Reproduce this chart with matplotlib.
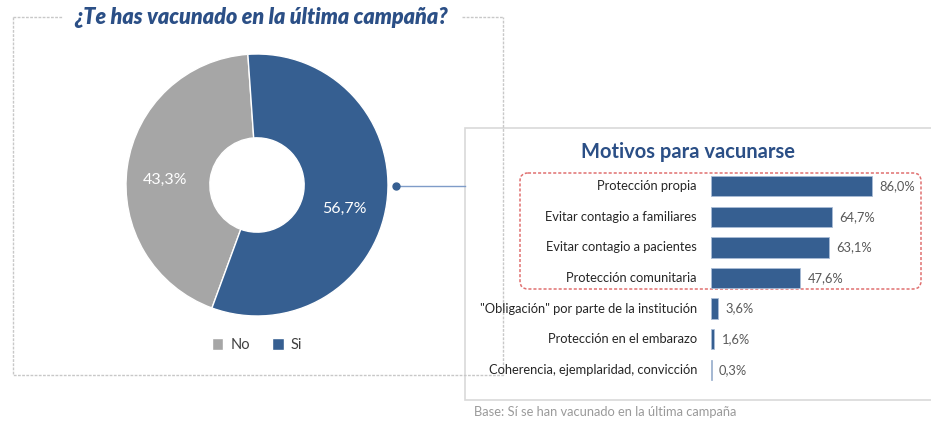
import matplotlib.pyplot as plt
from matplotlib.patches import Rectangle, FancyBboxPatch

# data
vac_labels = ['No', 'Si']
vac_values = [43.3, 56.7]
vac_text = ['43,3%', '56,7%']

motivos = ['Protección propia', 'Evitar contagio a familiares', 'Evitar contagio a pacientes',
           'Protección comunitaria', '"Obligación" por parte de la institución',
           'Protección en el embarazo', 'Coherencia, ejemplaridad, convicción']
motivos_pct = [86.0, 64.7, 63.1, 47.6, 3.6, 1.6, 0.3]
motivos_text = ['86,0%', '64,7%', '63,1%', '47,6%', '3,6%', '1,6%', '0,3%']

BLUE = '#365F91'
GRAY = '#A6A6A6'
TITLE = '#2B4F86'
W, H = 931, 423

plt.rcParams['font.family'] = ['Lato', 'DejaVu Sans']

fig = plt.figure(figsize=(W / 100, H / 100), dpi=100)


def px(x0, y0, w, h):
    # pixel box (top-left origin) -> figure fraction rect
    return [x0 / W, 1 - (y0 + h) / H, w / W, h / H]


# background layer for frames
bg = fig.add_axes([0, 0, 1, 1], zorder=0)
bg.set_xlim(0, W)
bg.set_ylim(H, 0)
bg.axis('off')

# left dashed frame, broken by the title
ls = dict(color='#C8C8C8', lw=1, ls=(0, (2, 1)))
bg.plot([13, 13, 503, 503], [17, 375, 375, 17], **ls)
bg.plot([13, 63], [17, 17], **ls)
bg.plot([462, 503], [17, 17], **ls)
bg.text(261, 18, '¿Te has vacunado en la última campaña?', ha='center', va='center',
        fontsize=15.5, fontweight='heavy', fontstyle='italic', color=TITLE)

# connector
bg.plot([396, 465], [186.5, 186.5], color='#7F9CC8', lw=1)
bg.plot([396], [186.5], 'o', ms=5, color=BLUE)

# right frame
bg.add_patch(Rectangle((465, 128), 470, 272, facecolor='white', edgecolor='#D9D9D9', lw=1.2))
bg.text(688, 152, 'Motivos para vacunarse', ha='center', va='center', fontsize=14.5,
        fontweight='bold', color=TITLE)
bg.add_patch(FancyBboxPatch((520, 173), 401, 116, boxstyle='round,pad=0,rounding_size=8',
                            facecolor='none', edgecolor='#E07070', lw=1.1, ls=(0, (2, 1.3))))
bg.text(474, 412, 'Base: Sí se han vacunado en la última campaña', ha='left', va='center',
        fontsize=9.3, color='#9A9A9A')

# donut
ax1 = fig.add_axes(px(257 - 131, 185 - 131, 262, 262), zorder=2)
wedges, _ = ax1.pie(vac_values, colors=[GRAY, BLUE], startangle=94, counterclock=True,
                    radius=1, wedgeprops=dict(width=0.64, edgecolor='white', linewidth=1))
ax1.set_xlim(-1, 1)
ax1.set_ylim(-1, 1)
ax1.set_aspect('equal')
ax1.text(-0.7, 0.04, vac_text[0], ha='center', va='center', color='white', fontsize=11.5)
ax1.text(0.67, -0.18, vac_text[1], ha='center', va='center', color='white', fontsize=11.5)
fig.legend(wedges, vac_labels, loc='center', bbox_to_anchor=(257 / W, 1 - 345 / H), ncol=2,
           frameon=False, handlelength=0.8, handleheight=0.8, handletextpad=0.5,
           columnspacing=1.5, fontsize=10.5, labelcolor='#404040')

# bars
ax2 = fig.add_axes(px(711, 171, 200, 214), zorder=2)
ypos = list(range(len(motivos)))
ax2.barh(ypos, motivos_pct, height=0.66, color=BLUE, edgecolor='#A9BCD6', linewidth=0.6)
ax2.set_xlim(0, 200 / (161 / 86.0))
ax2.set_ylim(len(motivos) - 0.5, -0.5)
ax2.axis('off')
for y, v, t, lab in zip(ypos, motivos_pct, motivos_text, motivos):
    ax2.text(v + 4, y, t, ha='left', va='center', fontsize=9.3, color='#595959')
    ax2.text(-7.5, y, lab, ha='right', va='center', fontsize=9.3, color='#262626')

fig.savefig('out.png', dpi=100, facecolor='white')
